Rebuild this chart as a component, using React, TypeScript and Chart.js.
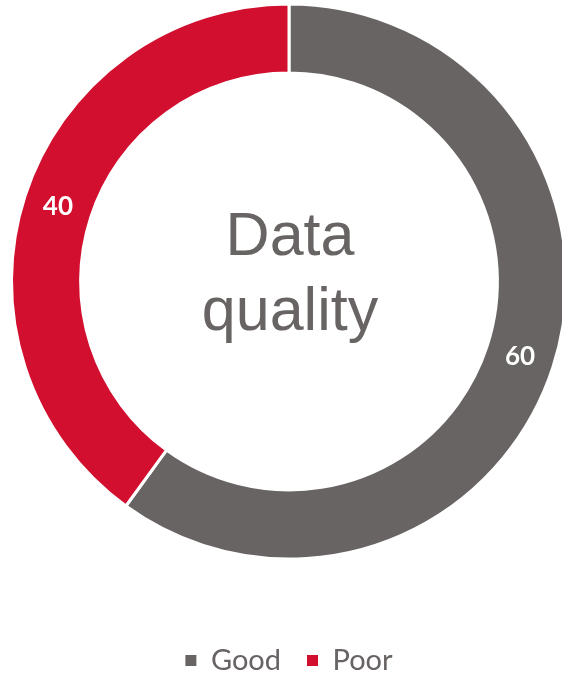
import React, { useEffect, useRef } from "react";
import { Chart, registerables } from "chart.js";

Chart.register(...registerables);

const categories = ["Good", "Poor"];
const values = [60, 40];
const colors = ["#686463", "#D20F2F"];
const centerLines = ["Data", "quality"];

const CANVAS_W = 578;
const CANVAS_H = 742;
const CANVAS_TOP = -57;

const sliceLabels = {
  id: "sliceLabels",
  afterDatasetsDraw(chart: any) {
    const ctx = chart.ctx;
    const meta = chart.getDatasetMeta(0);
    ctx.save();
    ctx.fillStyle = "#ffffff";
    ctx.font = "bold 26px Lato";
    ctx.textAlign = "center";
    ctx.textBaseline = "middle";
    meta.data.forEach((arc: any, i: number) => {
      const p = arc.tooltipPosition();
      ctx.fillText(String(values[i]), p.x, p.y);
    });
    ctx.restore();
  },
};

const centerText = {
  id: "centerText",
  afterDraw(chart: any) {
    const ctx = chart.ctx;
    const meta = chart.getDatasetMeta(0);
    const arc: any = meta.data[0];
    if (!arc) return;
    const cx = arc.x;
    const cy = arc.y;
    ctx.save();
    ctx.fillStyle = "#686463";
    ctx.font = "61px 'Liberation Sans'";
    ctx.textAlign = "center";
    ctx.textBaseline = "alphabetic";
    ctx.fillText(centerLines[0], cx + 1, cy - 27);
    ctx.fillText(centerLines[1], cx + 1, cy + 48);
    ctx.restore();
  },
};

export default function App() {
  const ref = useRef<HTMLCanvasElement | null>(null);
  useEffect(() => {
    if (!ref.current) return;
    const chart = new Chart(ref.current, {
      type: "doughnut",
      data: {
        labels: categories,
        datasets: [
          {
            data: values,
            backgroundColor: colors,
            borderColor: "#ffffff",
            borderWidth: 3,
          },
        ],
      },
      options: {
        responsive: false,
        animation: false,
        radius: 277.5,
        cutout: "75.1%",
        layout: { padding: 0 },
        plugins: {
          tooltip: { enabled: false },
          legend: {
            display: true,
            position: "bottom",
            labels: {
              boxWidth: 11,
              boxHeight: 11,
              padding: 26,
              color: "#686463",
              font: { family: "Lato", size: 29 },
              generateLabels: (chart: any) => {
                const items = Chart.overrides.doughnut.plugins.legend.labels.generateLabels(chart);
                return items.map((it: any) => ({ ...it, lineWidth: 0, strokeStyle: it.fillStyle }));
              },
            },
          },
        },
      } as any,
      plugins: [sliceLabels, centerText],
    });
    return () => chart.destroy();
  }, []);

  return (
    <div
      style={{
        position: "fixed",
        left: 0,
        top: 0,
        width: 562,
        height: 675,
        overflow: "hidden",
        background: "#ffffff",
      }}
    >
      <canvas
        ref={ref}
        width={CANVAS_W}
        height={CANVAS_H}
        style={{ position: "absolute", left: 0, top: CANVAS_TOP, width: CANVAS_W, height: CANVAS_H }}
      />
    </div>
  );
}
